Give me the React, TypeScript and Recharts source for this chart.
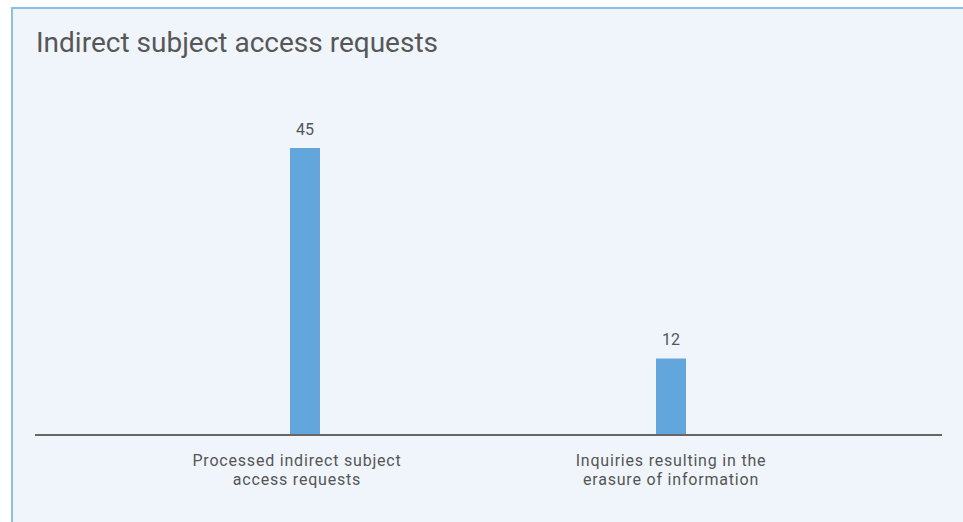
import React from "react";
import { BarChart, Bar, XAxis, YAxis, LabelList } from "recharts";

const categories = [
  "Processed indirect subject access requests",
  "Inquiries resulting in the erasure of information",
];
const values = [45, 12];
const tickLines: string[][] = [
  ["Processed indirect subject", "access requests"],
  ["Inquiries resulting in the", "erasure of information"],
];

const data = categories.map((c, i) => ({ name: c, value: values[i] }));

const FONT = "Roboto, 'Noto Sans', sans-serif";
const TEXT = "#555555";
const tickShift = [-8, 0];

const Tick = (props: any) => {
  const { x, y, index } = props;
  const lines = tickLines[index] || [];
  return (
    <g transform={`translate(${x + (tickShift[index] || 0)},${y})`}>
      {lines.map((l, i) => (
        <text
          key={i}
          x={0}
          y={23 + i * 19}
          textAnchor="middle"
          fontFamily={FONT}
          fontSize={16}
          letterSpacing={0.8}
          fill={TEXT}
        >
          {l}
        </text>
      ))}
    </g>
  );
};

export default function App() {
  return (
    <div
      style={{
        position: "fixed",
        left: 11,
        top: 7,
        width: 952,
        height: 515,
        background: "#F0F5FC",
        borderTop: "2px solid #8DC0E6",
        borderLeft: "2px solid #8DC0E6",
        boxSizing: "border-box",
        overflow: "hidden",
      }}
    >
      <div
        style={{
          position: "absolute",
          left: 23,
          top: 17,
          fontFamily: FONT,
          fontSize: 28,
          color: "#575757",
          whiteSpace: "nowrap",
        }}
      >
        Indirect subject access requests
      </div>
      <div style={{ position: "absolute", left: 0, top: 0 }}>
        <BarChart
          width={950}
          height={513}
          data={data}
          margin={{ top: 107, right: 21, bottom: 0, left: 22 }}
          barSize={30}
        >
          <XAxis
            dataKey="name"
            axisLine={{ stroke: "#666666", strokeWidth: 2 }}
            tickLine={false}
            tick={<Tick />}
            interval={0}
            height={87}
            padding={{ left: 87, right: 88 }}
          />
          <YAxis hide domain={[0, 50]} />
          <Bar dataKey="value" fill="#63A6DB" isAnimationActive={false}>
            <LabelList
              dataKey="value"
              position="top"
              offset={13}
              fontFamily={FONT}
              fontSize={16}
              fill={TEXT}
            />
          </Bar>
        </BarChart>
      </div>
    </div>
  );
}
